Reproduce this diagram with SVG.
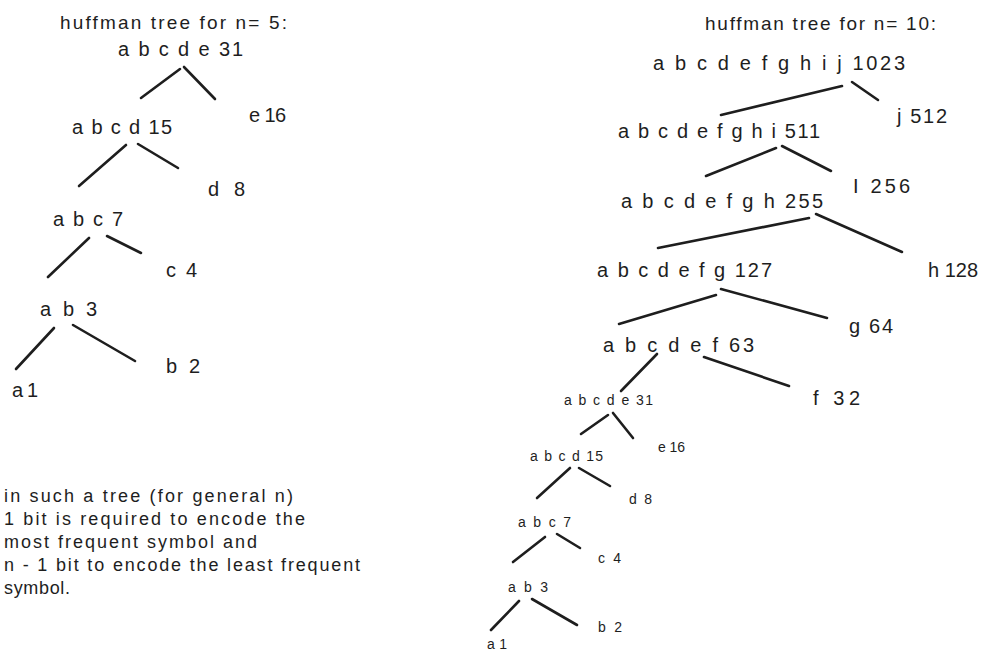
<svg xmlns="http://www.w3.org/2000/svg" width="1004" height="663" viewBox="0 0 1004 663">
<style>
text{font-family:"Liberation Sans",Arial,sans-serif;fill:#1e1e1e}
.t{font-size:19px}
.l{font-size:20px}
.s{font-size:14px}
.n{font-size:18px}
.c line{stroke:#1e1e1e;stroke-width:2.6;stroke-linecap:round}
</style>
<rect width="1004" height="663" fill="#ffffff"/>
<g id="title5"><text class="t" x="60" y="29" textLength="227">huffman tree for n= 5:</text></g>
<g id="n5-abcde"><text class="l" x="118" y="56" textLength="125">a b c d e 31</text></g>
<g id="n5-e16"><text class="l" x="249" y="122" textLength="37">e 16</text></g>
<g id="n5-abcd"><text class="l" x="72" y="134" textLength="100">a b c d 15</text></g>
<g id="n5-d8"><text class="l" x="208" y="196" textLength="37">d 8</text></g>
<g id="n5-abc"><text class="l" x="53" y="226" textLength="70">a b c 7</text></g>
<g id="n5-c4"><text class="l" x="166" y="277" textLength="31">c 4</text></g>
<g id="n5-ab"><text class="l" x="40" y="316" textLength="57">a b 3</text></g>
<g id="n5-b2"><text class="l" x="166" y="373" textLength="34">b 2</text></g>
<g id="n5-a1"><text class="l" x="12" y="397" textLength="26">a 1</text></g>
<g id="note">
<text class="n" x="4" y="502" textLength="289">in such a tree (for general n)</text>
<text class="n" x="4" y="525" textLength="301">1 bit is required to encode the</text>
<text class="n" x="4" y="548" textLength="253">most frequent symbol and</text>
<text class="n" x="4" y="571" textLength="356">n - 1 bit to encode the least frequent</text>
<text class="n" x="4" y="594" textLength="66">symbol.</text>
</g>
<g id="title10"><text class="t" x="705" y="30" textLength="231">huffman tree for n= 10:</text></g>
<g id="r-1023"><text class="l" x="653" y="70" textLength="252">a b c d e f g h i j  1023</text></g>
<g id="r-j512"><text class="l" x="897" y="123" textLength="50">j 512</text></g>
<g id="r-511"><text class="l" x="618" y="138" textLength="202">a b c d e f g h i 511</text></g>
<g id="r-I256"><text class="l" x="853" y="193" textLength="57">I 256</text></g>
<g id="r-255"><text class="l" x="621" y="208" textLength="202">a b c d e f g h 255</text></g>
<g id="r-h128"><text class="l" x="928" y="277" textLength="50">h 128</text></g>
<g id="r-127"><text class="l" x="597" y="277" textLength="175">a b c d e f g 127</text></g>
<g id="r-g64"><text class="l" x="849" y="333" textLength="44">g 64</text></g>
<g id="r-63"><text class="l" x="603" y="352" textLength="151">a b c d e f 63</text></g>
<g id="r-f32"><text class="l" x="813" y="405" textLength="47">f 32</text></g>
<g id="r-31"><text class="s" x="564" y="405" textLength="89">a b c d e 31</text></g>
<g id="r-e16"><text class="s" x="658" y="452" textLength="27">e 16</text></g>
<g id="r-15"><text class="s" x="530" y="461" textLength="73">a b c d 15</text></g>
<g id="r-d8"><text class="s" x="629" y="504" textLength="23">d 8</text></g>
<g id="r-7"><text class="s" x="518" y="527" textLength="53">a b c 7</text></g>
<g id="r-c4"><text class="s" x="598" y="563" textLength="23">c 4</text></g>
<g id="r-3"><text class="s" x="508" y="592" textLength="40">a b 3</text></g>
<g id="r-b2"><text class="s" x="598" y="632" textLength="24">b 2</text></g>
<g id="r-a1"><text class="s" x="487" y="649" textLength="20">a 1</text></g>
<g id="connectors" class="c">
<line x1="180" y1="69" x2="141" y2="98"/>
<line x1="184" y1="67" x2="215" y2="99"/>
<line x1="126" y1="145" x2="79" y2="186"/>
<line x1="138" y1="144" x2="178" y2="168"/>
<line x1="89" y1="238" x2="48" y2="277"/>
<line x1="107" y1="236" x2="141" y2="253"/>
<line x1="54" y1="328" x2="16" y2="369"/>
<line x1="73" y1="325" x2="135" y2="361"/>
<line x1="842" y1="86" x2="721" y2="115"/>
<line x1="852" y1="82" x2="878" y2="100"/>
<line x1="776" y1="148" x2="706" y2="176"/>
<line x1="782" y1="146" x2="831" y2="171"/>
<line x1="809" y1="218" x2="658" y2="248"/>
<line x1="816" y1="214" x2="902" y2="252"/>
<line x1="716" y1="295" x2="619" y2="324"/>
<line x1="721" y1="289" x2="827" y2="318"/>
<line x1="657" y1="354" x2="621" y2="391"/>
<line x1="704" y1="357" x2="789" y2="386"/>
<line x1="608" y1="415" x2="581" y2="434"/>
<line x1="613" y1="413" x2="633" y2="438"/>
<line x1="570" y1="468" x2="537" y2="498"/>
<line x1="579" y1="468" x2="610" y2="486"/>
<line x1="545" y1="537" x2="513" y2="562"/>
<line x1="557" y1="534" x2="580" y2="548"/>
<line x1="519" y1="601" x2="491" y2="630"/>
<line x1="532" y1="599" x2="577" y2="625"/>
</g>
</svg>
